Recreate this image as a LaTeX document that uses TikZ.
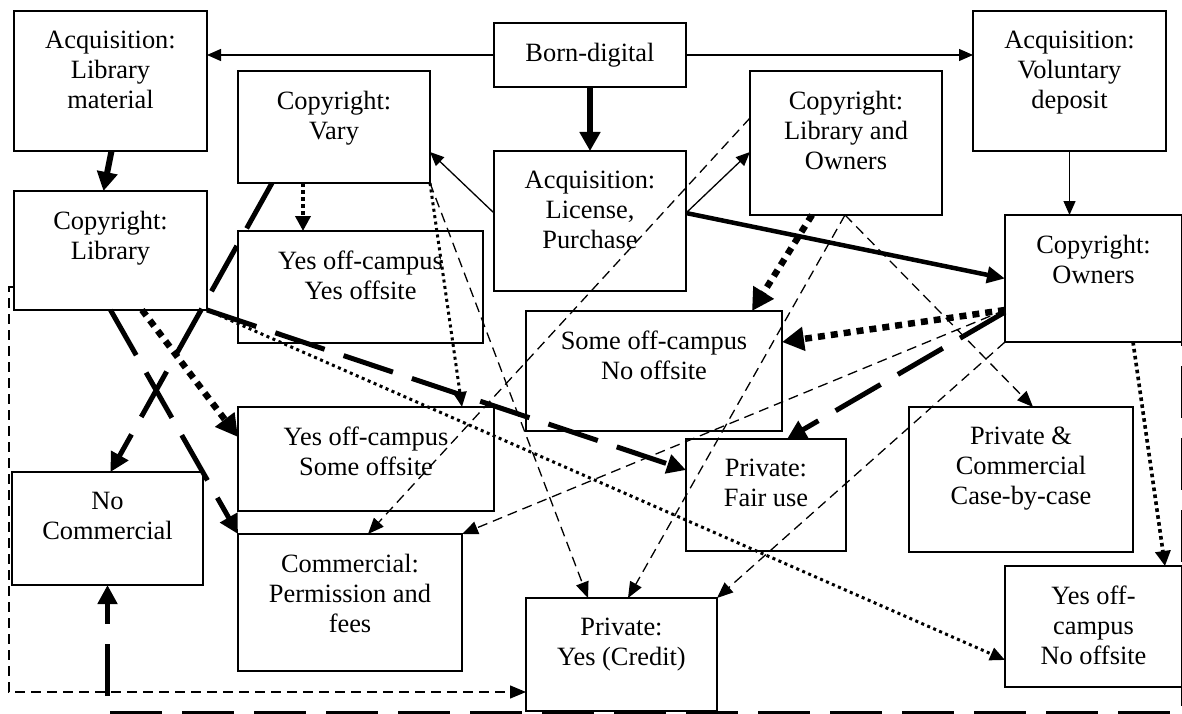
\documentclass[tikz,border=0pt]{standalone}
\usepackage{fontspec}
\setmainfont{Liberation Serif}
\usetikzlibrary{arrows.meta,calc}
\tikzset{
  boxst/.style={draw, rectangle, line width=1.3pt, inner sep=0pt, outer sep=0pt},
  txt/.style={font=\fontsize{26.4}{30}\selectfont, align=center, inner sep=0pt},
  thinl/.style={line width=1.3pt, -{Triangle[length=14pt,width=12pt]}},
  thickl/.style={line width=6pt, -{Triangle[length=19pt,width=20pt]}},
  thickm/.style={line width=4.5pt, -{Triangle[length=18pt,width=16pt]}},
  bigdot/.style={line width=6.5pt, dash pattern=on 7pt off 6pt, -{Triangle[length=22pt,width=23pt]}},
  meddot/.style={line width=3.6pt, dash pattern=on 3.6pt off 3.4pt, -{Triangle[length=15pt,width=15pt]}},
  smalldot/.style={line width=3pt, dash pattern=on 3pt off 3.5pt, -{Triangle[length=15pt,width=13pt]}},
  longd/.style={line width=5pt, dash pattern=on 52pt off 20pt, -{Triangle[length=19pt,width=19pt]}},
  thind/.style={line width=1.3pt, dash pattern=on 10pt off 6pt, -{Triangle[length=16pt,width=13pt]}},
}
\newcommand{\dbox}[6]{%
  \node[boxst, minimum width={#4pt-#2pt}, minimum height={#5pt-#3pt}] (#1) at ({(#2+#4)/2},{(#3+#5)/2}) {};
  \node[txt, anchor=north] (#1t) at ($(#1.north)+(0,20)$) {#6};
}
\begin{document}
\begin{tikzpicture}[x=1pt,y=-1pt]
\useasboundingbox (0,0) rectangle (1182,714);
\fill[white] (0,0) rectangle (1182,714);

\dbox{lm}{14}{11}{207}{151}{Acquisition:\\Library\\material}
\dbox{cl}{14}{191}{207}{310}{Copyright:\\Library}
\dbox{cv}{238}{71}{430}{183}{Copyright:\\Vary}
\dbox{yy}{238}{231}{483}{343}{Yes off-campus\\Yes offsite}
\dbox{bd}{494}{23}{686}{87}{Born-digital}
\dbox{al}{494}{151}{686}{291}{Acquisition:\\License,\\Purchase}
\dbox{clo}{750}{71}{942}{215}{Copyright:\\Library and\\Owners}
\dbox{av}{973}{11}{1166}{151}{Acquisition:\\Voluntary\\deposit}
\dbox{co}{1005}{215}{1182}{342}{Copyright:\\Owners}
\dbox{sn}{526}{311}{782}{431}{Some off-campus\\No offsite}
\dbox{ys}{238}{407}{494}{511}{Yes off-campus\\Some offsite}
\dbox{nc}{12}{472}{203}{585}{No\\Commercial}
\dbox{cp}{238}{534}{462}{671}{Commercial:\\Permission and\\fees}
\dbox{py}{526}{598}{717}{711}{Private:\\Yes (Credit)}
\dbox{pf}{686}{439}{846}{551}{Private:\\Fair use}
\dbox{pc}{909}{407}{1133}{552}{Private \&\\Commercial\\Case-by-case}
\dbox{yn}{1005}{566}{1182}{687}{Yes off-\\campus\\No offsite}

% thin solid
\draw[thinl] (bd.west) -- (bd.west -| lm.east);
\draw[thinl] (bd.east) -- (bd.east -| av.west);
\draw[thinl] (av.south) -- (av.south |- co.north);
\draw[thinl] ($(al.west)+(0,-8)$) -- ($(cv.east)+(0,25)$);
\draw[thinl] ($(al.east)+(0,-8)$) -- ($(clo.west)+(0,9)$);

% thick solid
\draw[thickl] (bd.south) -- (al.north);
\draw[thickl] ($(lm.south)+(1,0)$) -- ($(cl.north)+(-7,0)$);
\draw[thickm] ($(al.east)+(0,-8)$) -- (co.west);

% big square dots
\draw[bigdot] ($(clo.south)+(-34,0)$) -- ($(sn.north)+(98,0)$);
\draw[bigdot] ($(co.west)+(0,31.5)$) -- ($(sn.east)+(0,-29)$);
\draw[bigdot] ($(cl.south)+(31.5,0)$) -- ($(ys.west)+(0,-22)$);

% medium dots
\draw[meddot] ($(cv.south)+(-31,0)$) -- ($(yy.north)+(-57.5,0)$);
\draw[meddot] ($(co.south)+(39.5,0)$) -- ($(yn.north)+(71.5,0)$);

% small dots
\draw[smalldot] (cv.south east) -- ($(ys.north)+(96,0)$);
\draw[smalldot] (cl.south east) -- ($(yn.west)+(0,33.5)$);

% long dashes
\draw[longd] (cl.south) -- (cp.north west);
\draw[longd] ($(cv.south)+(-62,0)$) -- ($(nc.north)+(3,0)$);
\draw[longd] (cl.south east) -- ($(pf.west)+(0,-25)$);
\draw[longd] ($(co.west)+(0,33.5)$) -- ($(pf.north)+(21,0)$);
\coordinate (ownr) at ($(co.north east)+(1,7)$);
\draw[longd] (ownr) |- ($(nc.south)+(0,128)$) -- (nc.south);

% thin dashes
\draw[thind] ($(cl.west)+(0,36.5)$) -- ++(-5,0) |- ($(py.west)+(0,37.5)$);
\draw[thind] (cv.south east) -- ($(py.north)+(-33.5,0)$);
\draw[thind] ($(clo.west)+(0,-25)$) -- ($(cp.north)+(18,0)$);
\draw[thind] ($(clo.south)+(-1,0)$) -- ($(py.north)+(6.5,0)$);
\draw[thind] ($(clo.south)+(-1,0)$) -- ($(pc.north)+(12,0)$);
\draw[thind] ($(co.west)+(0,31.5)$) -- (cp.north east);
\draw[thind] (co.south west) -- (py.north east);
\end{tikzpicture}
\end{document}
